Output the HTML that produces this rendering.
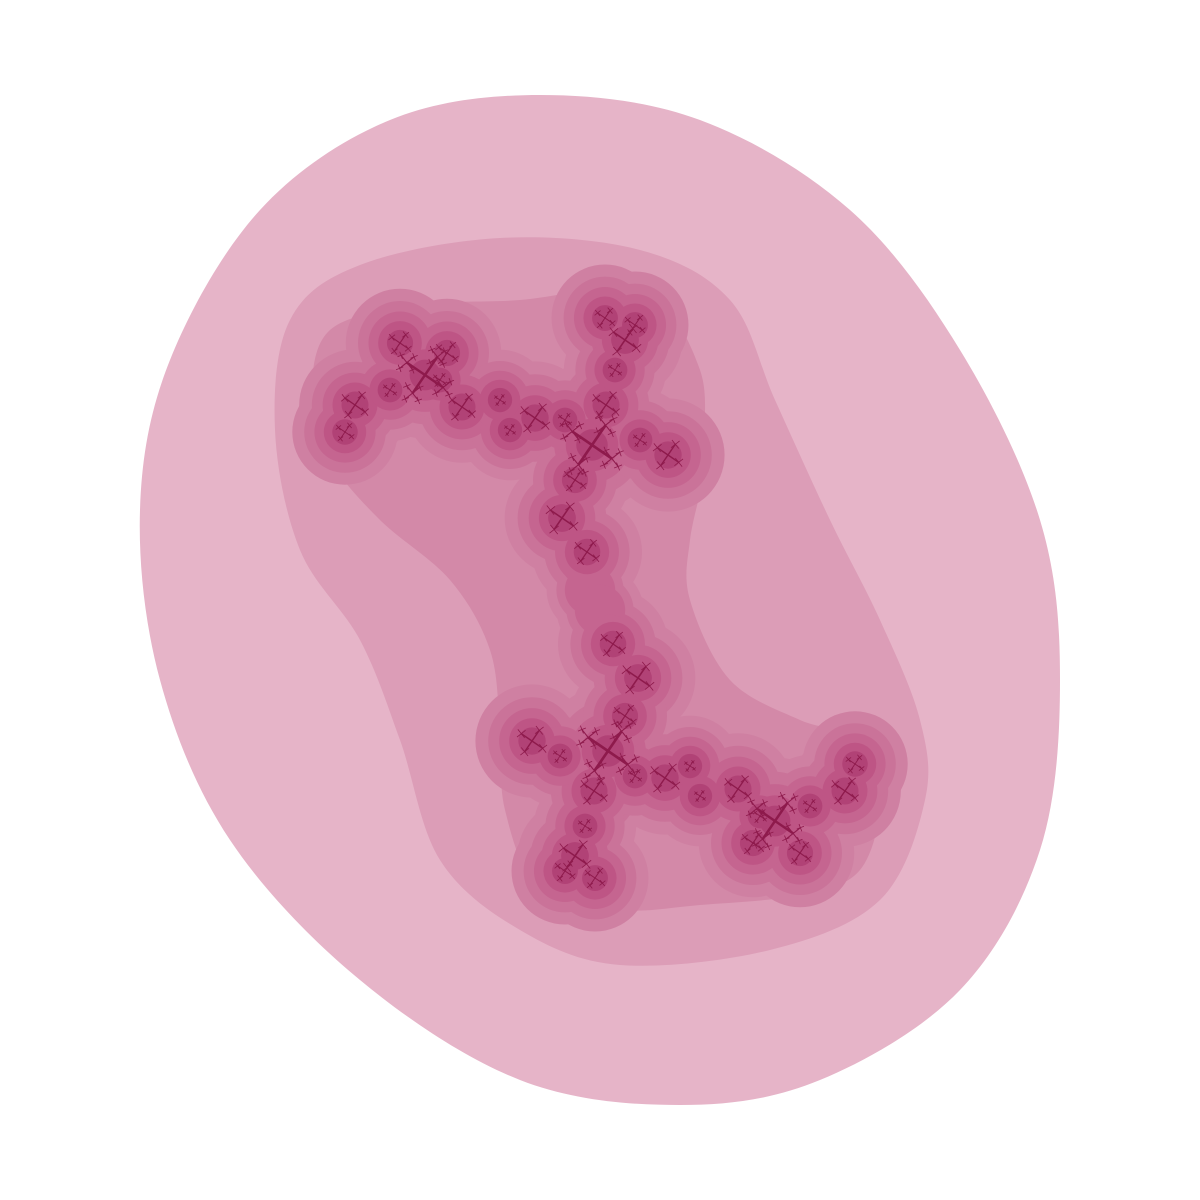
<!DOCTYPE html>
<html><head><meta charset="utf-8">
<style>html,body{margin:0;padding:0;background:#fff;}svg{display:block;}</style></head>
<body>
<svg id="chart" width="1200" height="1200" viewBox="0 0 1200 1200" xmlns="http://www.w3.org/2000/svg">
<g id="bands"></g>
<g id="blobs"></g>
<g id="fractal"></g>
</svg>
<script>
const band1 = [[540,95],[700,120],[850,210],[960,350],[1040,520],[1060,680],[1040,850],[960,990],[820,1080],[680,1105],[520,1080],[360,980],[230,840],[160,680],[140,510],[170,360],[260,210],[390,120]];
const band2 = [[500,238],[640,250],[730,300],[775,400],[830,520],[880,620],[920,720],[925,800],[880,900],[770,950],[620,965],[520,930],[440,860],[400,740],[360,640],[300,550],[275,430],[290,320],[360,265]];
const band3 = [[330,330],[420,305],[520,300],[600,290],[660,300],[700,370],[705,430],[705,470],[690,540],[690,600],[730,680],[800,720],[860,740],[880,800],[860,870],[800,895],[700,905],[620,910],[540,890],[505,810],[500,730],[490,650],[450,580],[380,520],[330,460],[312,400]];
// cross centers (upper half); lower half is point-symmetric about center
const crossX = [425,400,447,462,355,345,625,605,635,592,535,606,668,562,587,575,390,615,640,565,510,500,440];
const crossY = [375,343,353,407,405,432,340,318,325,445,418,405,455,518,552,480,390,370,440,420,430,400,380];
const crossS = [22,10,10,12,12,8,14,9,9,24,13,12,13,14,11,10,6,6,6,6,5,5,6];
const cx0 = 600, cy0 = 598;
const bandColors = ['#e6b4c8','#dc9db7','#d389a8'];
const ringR = [62,48,36,25,15];
const ringC = ['#cf80a2','#ca7399','#c56590','#be5585','#b14276'];

const NS='http://www.w3.org/2000/svg';
function smooth(pts){
  const n=pts.length;let d=`M${pts[0][0]},${pts[0][1]}`;
  for(let i=0;i<n;i++){
    const p0=pts[(i-1+n)%n],p1=pts[i],p2=pts[(i+1)%n],p3=pts[(i+2)%n];
    const c1=[p1[0]+(p2[0]-p0[0])/6,p1[1]+(p2[1]-p0[1])/6];
    const c2=[p2[0]-(p3[0]-p1[0])/6,p2[1]-(p3[1]-p1[1])/6];
    d+=` C${c1[0]},${c1[1]} ${c2[0]},${c2[1]} ${p2[0]},${p2[1]}`;
  }
  return d+'Z';
}
const bandsG=document.getElementById('bands');
[band1,band2,band3].forEach((b,i)=>{
  const p=document.createElementNS(NS,'path');
  p.setAttribute('d',smooth(b));p.setAttribute('fill',bandColors[i]);
  
  
  bandsG.appendChild(p);
});
const pts=[];
for(let i=0;i<crossX.length;i++){
  pts.push([crossX[i],crossY[i],crossS[i]]);
  pts.push([2*cx0-crossX[i],2*cy0-crossY[i],crossS[i]]);
}
const neck=[[585,560],[590,590],[600,610],[610,640]];
const blobsG=document.getElementById('blobs');
ringR.forEach((r,k)=>{
  const g=document.createElementNS(NS,'g');
  
  
  g.setAttribute('fill',ringC[k]);
  pts.forEach(p=>{
    const c=document.createElementNS(NS,'circle');
    c.setAttribute('cx',p[0]);c.setAttribute('cy',p[1]);
    c.setAttribute('r',r*(0.75+p[2]/80));
    g.appendChild(c);
  });
  if(k<3) neck.forEach(p=>{
    const c=document.createElementNS(NS,'circle');
    c.setAttribute('cx',p[0]);c.setAttribute('cy',p[1]);c.setAttribute('r',r*0.7);
    g.appendChild(c);
  });
  blobsG.appendChild(g);
});
const fr=document.getElementById('fractal');
function cross(x,y,s,a,depth){
  for(let j=0;j<4;j++){
    const ang=a+j*Math.PI/2;
    const ex=x+s*Math.cos(ang),ey=y+s*Math.sin(ang);
    const l=document.createElementNS(NS,'line');
    l.setAttribute('x1',x);l.setAttribute('y1',y);l.setAttribute('x2',ex);l.setAttribute('y2',ey);
    l.setAttribute('stroke','#8e1a4c');l.setAttribute('stroke-width',Math.max(0.8,s/9));
    fr.appendChild(l);
    if(depth>0) cross(ex,ey,s*0.42,a+0.3,depth-1);
  }
}
pts.forEach(p=>cross(p[0],p[1],p[2],0.6,p[2]>15?2:1));
</script>
</body></html>
